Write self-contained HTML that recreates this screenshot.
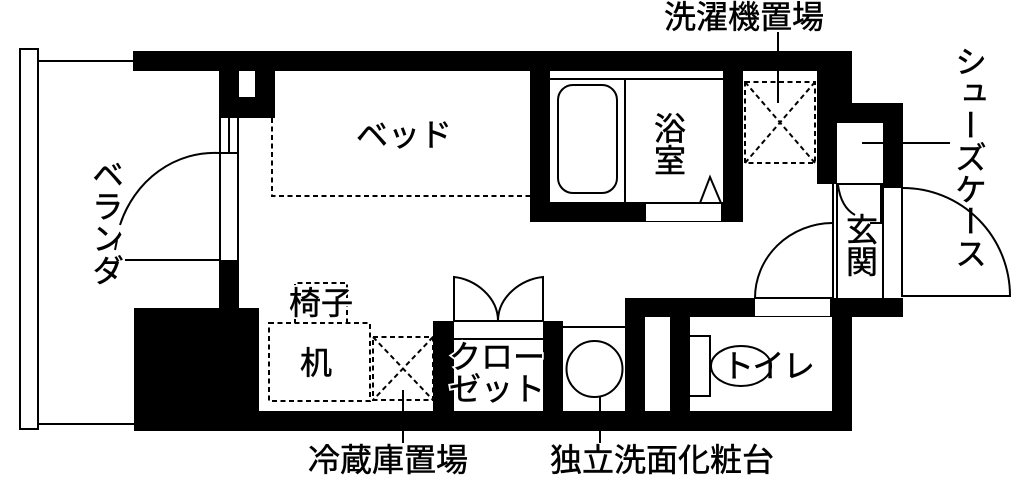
<!DOCTYPE html>
<html lang="ja"><head><meta charset="utf-8">
<style>
html,body{margin:0;padding:0;background:#fff}
body{width:1024px;height:486px;position:relative;overflow:hidden}
svg{position:absolute;left:0;top:0}
text{font-family:"Liberation Sans","Noto Sans CJK JP",sans-serif;font-size:32px;fill:#000;stroke:#000;stroke-width:.5px}
.h{stroke:#fff;stroke-width:4px}
.v{position:absolute;writing-mode:vertical-rl;font-family:"Liberation Sans","Noto Sans CJK JP",sans-serif;font-size:32px;line-height:32px;color:#000;white-space:nowrap;-webkit-text-stroke:.5px #000}
</style></head><body>
<svg width="1024" height="486" viewBox="0 0 1024 486">
<g fill="#000">
<rect x="133" y="51" width="719" height="20"/>
<rect x="219" y="71" width="56" height="47"/>
<rect x="219" y="260" width="20" height="48"/>
<rect x="134" y="308" width="125" height="123"/>
<rect x="134" y="411" width="718" height="20"/>
<rect x="530" y="71" width="20" height="151"/>
<rect x="723" y="71" width="20" height="151"/>
<rect x="530" y="202" width="213" height="20"/>
<rect x="817" y="51" width="35" height="72"/>
<rect x="817" y="103" width="20" height="81"/>
<rect x="817" y="103" width="86" height="20"/>
<rect x="883" y="103" width="20" height="85"/>
<rect x="625" y="298" width="278" height="19"/>
<rect x="832" y="298" width="20" height="133"/>
<rect x="625" y="298" width="20" height="133"/>
<rect x="670" y="298" width="20" height="133"/>
<rect x="433" y="321" width="21" height="100"/>
<rect x="543" y="321" width="20" height="100"/>
</g>
<g fill="#fff">
<rect x="239" y="71" width="16" height="26"/>
<rect x="646" y="204" width="75" height="17"/>
<rect x="755" y="299" width="75" height="17"/>
<rect x="455" y="322" width="87" height="17"/>
</g>
<g fill="none" stroke="#000" stroke-width="2">
<rect x="20" y="49" width="18" height="380" stroke-width="2"/>
<path d="M38 61H133M38 424H134"/>
<path d="M220 118V260M238 118V260M229 118V153M220 153H238M125 260H220"/>
<path d="M220 153A100 107 0 0 0 120 225M117 240L115 250"/>
<path d="M550 79H723M625 79V202"/>
<rect x="558" y="85" width="59" height="108" rx="15"/>
<path d="M700 203L710 177L721 203M625 203H723"/>
<path d="M778 32V51M778 71V103"/>
<path d="M862 143H883M903 143H950"/>
<path d="M833 184V298M837 184V298M883 184V298M902 188V297"/>
<path d="M837 184H883M881 184V223H870"/>
<path d="M838 185C840 200 846 210 855 215"/>
<path d="M832 223A78 75 0 0 0 755 298M755 298H832"/>
<path d="M903 188A107 108 0 0 1 1010 296H903"/>
<path d="M454 322V277C475 279 498 297 498 321C498 297 521 279 543 277V322M454 321H543M454 339H543"/>
<path d="M563 327H625"/>
<circle cx="594.5" cy="369" r="28"/>
<path d="M600 397V411M600 431V443"/>
<path d="M403 390V411M403 431V443"/>
<path d="M690 336H710V396H690"/>
<ellipse cx="741" cy="366" rx="30" ry="20"/>
</g>
<g fill="none" stroke="#000" stroke-width="2" stroke-dasharray="5 3.5">
<path d="M272 118V196H530"/>
<rect x="745" y="82" width="70" height="81"/>
<path d="M745 82L815 163M815 82L745 163"/>
<rect x="269" y="323" width="101" height="78"/>
<path d="M295 323V283H347V323"/>
<rect x="373" y="337" width="60" height="63"/>
<path d="M373 337L433 400M433 337L373 400"/>
</g>
<text x="664" y="28">洗濯機置場</text>
<text x="308" y="471">冷蔵庫置場</text>
<text x="550" y="471">独立洗面化粧台</text>
<text x="356" y="146">ベッド</text>
<text x="300" y="374">机</text>
<text x="289" y="314" class="h">椅子</text>
<text x="449" y="368" class="h">クロー</text>
<text x="449" y="400" class="h">ゼット</text>
<text x="289" y="314">椅子</text>
<text x="449" y="368">クロー</text>
<text x="449" y="400">ゼット</text>
<text x="722" y="377" style="letter-spacing:-1.5px">トイレ</text>
</svg>
<div class="v" style="left:652px;top:112px">浴室</div>
<div class="v" style="left:844px;top:213px">玄関</div>
<div class="v" style="left:90px;top:158px">ベランダ</div>
<div class="v" style="left:953px;top:45px">シューズケース</div>
</body></html>
